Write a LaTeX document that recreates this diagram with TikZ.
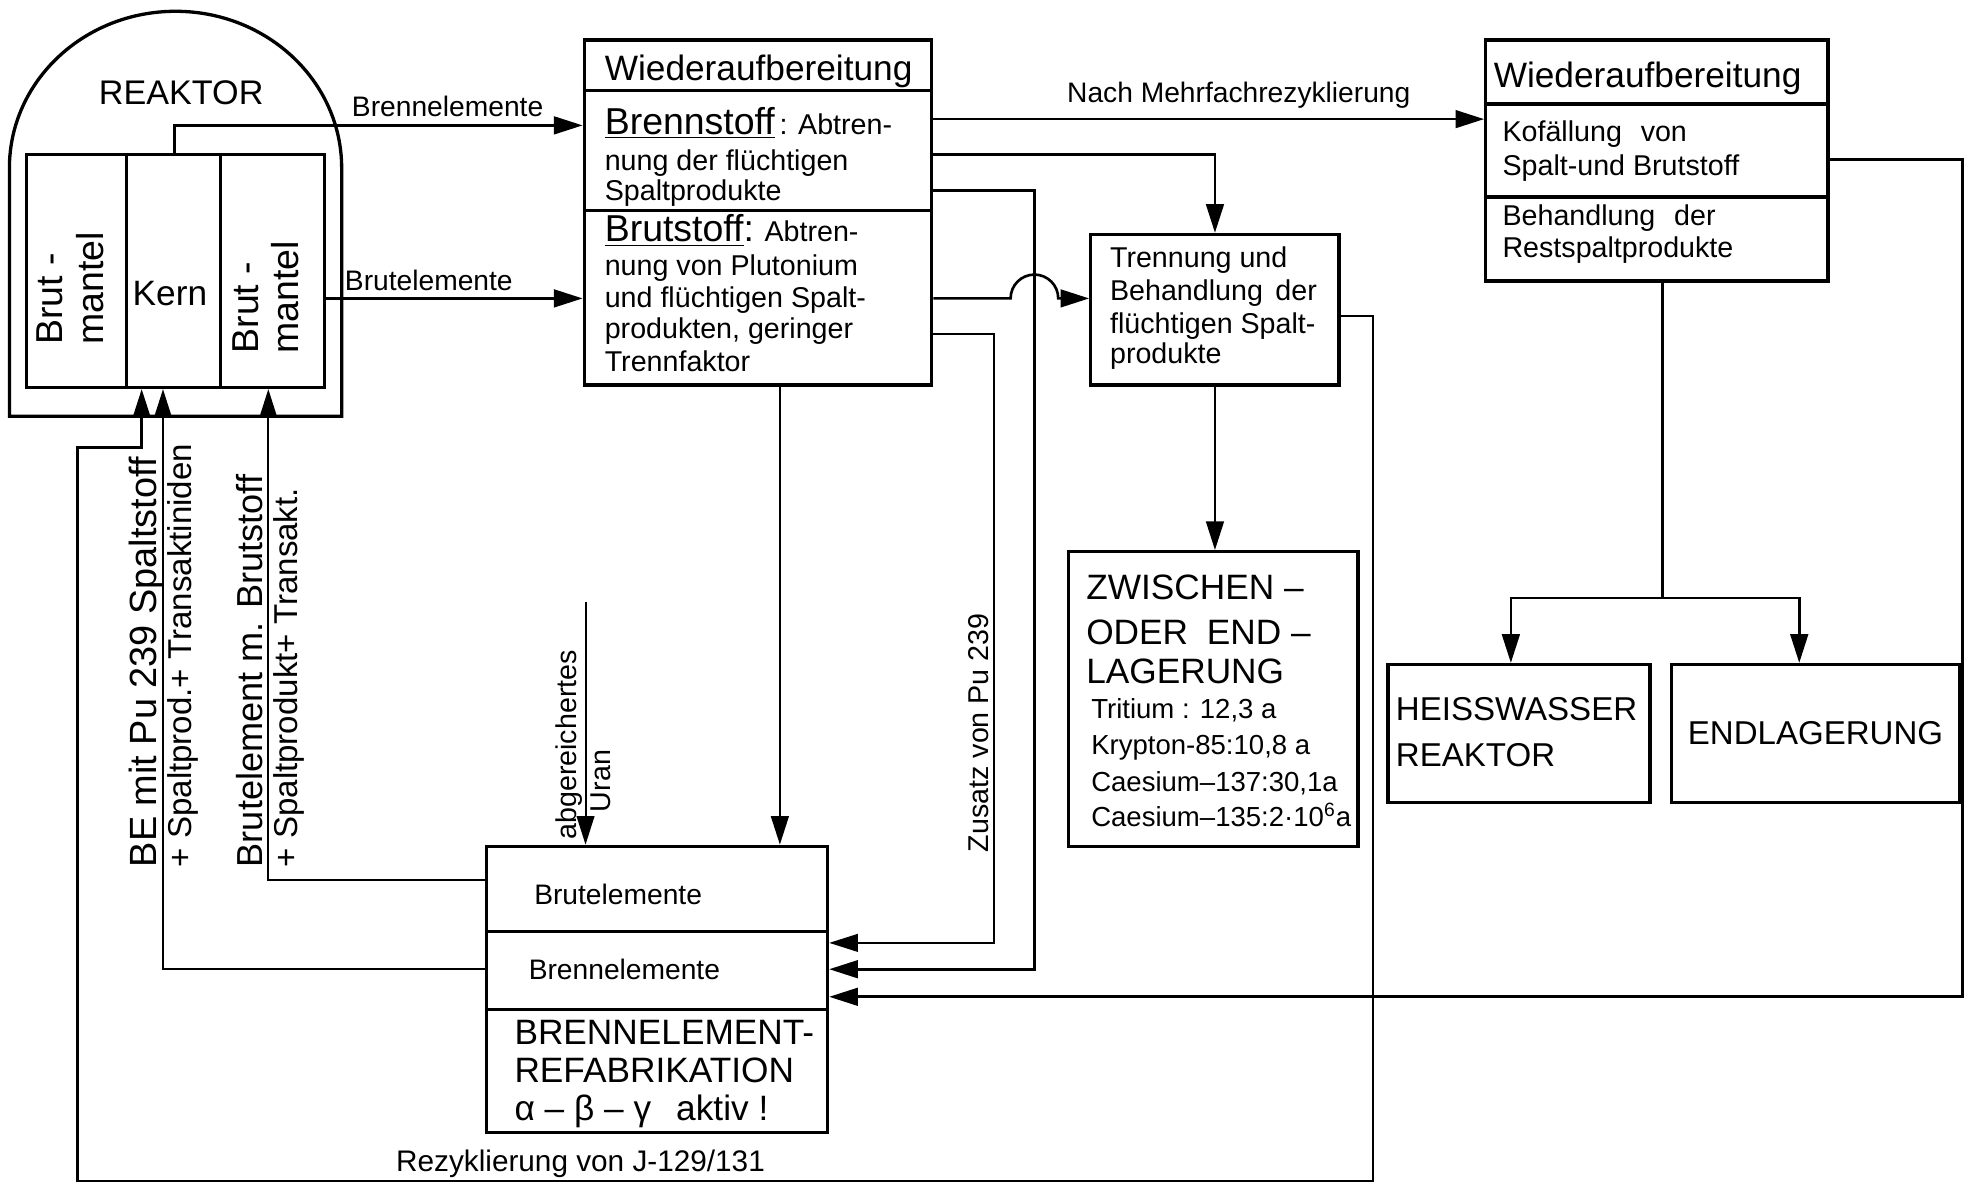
\documentclass[tikz,border=0pt]{standalone}
\usepackage{fontspec}
\setmainfont{Liberation Sans}
\usetikzlibrary{arrows.meta}
\usetikzlibrary{positioning,fit}

\tikzset{
  stage/.style={draw, line width=1.5pt, inner sep=0pt},
  divline/.style={line width=1.5pt},
  flowline/.style={line width=1.2pt},
  feedline/.style={line width=0.9pt},
  arr/.style={-{Triangle[length=13pt,width=8pt]}},
  lbl/.style={inner sep=0pt, font=\fontsize{12.8}{15}\selectfont},
  body/.style={anchor=base west, inner sep=0pt, font=\fontsize{13}{15}\selectfont},
  small/.style={anchor=base west, inner sep=0pt, font=\fontsize{12.5}{15}\selectfont},
  title/.style={anchor=base west, inner sep=0pt, font=\fontsize{16}{19}\selectfont},
  bigtxt/.style={anchor=base west, inner sep=0pt, font=\fontsize{15}{18}\selectfont},
}

\begin{document}
\begin{tikzpicture}[x=0.2mm, y=-0.2mm]
        \useasboundingbox (0,0) rectangle (1568,945);

        % Reaktor
        \draw[divline] (7.5,332) -- (7.5,134) arc[start angle=180, end angle=360, x radius=132.5, y radius=125] -- (272.5,332) -- cycle;
        \node[stage, fit={(21,123) (259,309)}] (core) {};
        \draw[divline] (core.north -| 101,0) -- (core.south -| 101,0);
        \draw[divline] (core.north -| 176,0) -- (core.south -| 176,0);
        \node[inner sep=0pt, font=\fontsize{15.5}{19}\selectfont] (reaktor) at (144.5,74) {REAKTOR};
        \node[rotate=90, align=left, inner sep=0pt, font=\fontsize{17}{18.5}\selectfont] (mantelL) at (56,230) {Brut -\\mantel};
        \node[inner sep=0pt, font=\fontsize{16}{19}\selectfont] (kern) at (135.5,234) {Kern};
        \node[rotate=90, align=left, inner sep=0pt, font=\fontsize{17}{18.5}\selectfont] (mantelR) at (212,237) {Brut -\\mantel};

        % Wiederaufbereitung
        \node[stage, fit={(466,32) (743,307)}] (wa1) {};
        \draw[divline] (wa1.west |- 0,72) -- (wa1.east |- 0,72);
        \draw[divline] (wa1.west |- 0,168) -- (wa1.east |- 0,168);
        \node[title] (wa1t) at (482,64) {Wiederaufbereitung};
        \node[body] (wa1a) at (482,107) {{\fontsize{17}{19}\selectfont\underline{Brennstoff}}\,: Abtren-};
        \node[body] (wa1b) at (482,136) {nung der flüchtigen};
        \node[body] (wa1c) at (482,160) {Spaltprodukte};
        \node[body] (wa1d) at (482,193) {{\fontsize{17}{19}\selectfont\underline{Brutstoff}:} Abtren-};
        \node[body] (wa1e) at (482,220) {nung von Plutonium};
        \node[body] (wa1f) at (482,245) {und flüchtigen Spalt-};
        \node[body] (wa1g) at (482,270) {produkten, geringer};
        \node[body] (wa1h) at (482,296) {Trennfaktor};

        % Trennung
        \node[stage, fit={(870,187) (1068,307)}] (tr) {};
        \node[body] (tra) at (885,213) {Trennung und};
        \node[body] (trb) at (885,240) {Behandlung\hspace{2mm}der};
        \node[body] (trc) at (885,266) {flüchtigen Spalt-};
        \node[body] (trd) at (885,290) {produkte};

        % Zwischenlager
        \node[stage, fit={(852,440) (1083,675)}] (zw) {};
        \node[title] (zwa) at (866,478) {ZWISCHEN –};
        \node[title] (zwb) at (866,514) {ODER\hspace{3mm}END –};
        \node[title] (zwc) at (866,545) {LAGERUNG};
        \node[small] (zwd) at (870,573) {Tritium : 12,3 a};
        \node[small] (zwe) at (870,602) {Krypton-85:10,8 a};
        \node[small] (zwf) at (870,631) {Caesium–137:30,1a};
        \node[small] (zwg) at (870,659) {Caesium–135:2·10\textsuperscript{6}a};

        % zweite Wiederaufbereitung
        \node[stage, fit={(1185,32) (1458,224)}] (wa2) {};
        \draw[divline] (wa2.west |- 0,83) -- (wa2.east |- 0,83);
        \draw[divline] (wa2.west |- 0,157) -- (wa2.east |- 0,157);
        \node[title] (wa2t) at (1191,70) {Wiederaufbereitung};
        \node[body] (wa2a) at (1198,113) {Kofällung\hspace{3mm}von};
        \node[body] (wa2b) at (1198,140) {Spalt-und Brutstoff};
        \node[body] (wa2c) at (1198,180) {Behandlung\hspace{3mm}der};
        \node[body] (wa2d) at (1198,205) {Restspaltprodukte};

        \node[stage, fit={(1107,530) (1316,640)}] (hw) {};
        \node[bigtxt] (hwa) at (1113,575) {HEISSWASSER};
        \node[bigtxt] (hwb) at (1113,611) {REAKTOR};
        \node[stage, fit={(1333,530) (1563,640)}] (el) {};
        \node[inner sep=0pt, font=\fontsize{15}{18}\selectfont] (ela) at (el.center) {ENDLAGERUNG};

        % Refabrikation
        \node[stage, fit={(388,675) (660,903)}] (refab) {};
        \draw[divline] (refab.west |- 0,743) -- (refab.east |- 0,743);
        \draw[divline] (refab.west |- 0,805) -- (refab.east |- 0,805);
        \node[lbl] (rfa) at (493,713) {Brutelemente};
        \node[lbl] (rfb) at (498,773) {Brennelemente};
        \node[title] (rfc) at (410,833) {BRENNELEMENT-};
        \node[title] (rfd) at (410,863) {REFABRIKATION};
        \node[title] (rfe) at (410,894) {α – β – γ\hspace{4mm}aktiv !};

        % Verbindungen
        \draw[flowline, arr] (core.north -| 139,0) |- (wa1.west |- 0,100);
        \node[lbl] (lbrenn) at (357,85) {Brennelemente};
        \draw[flowline, arr] (core.east |- 0,238) -- (wa1.west |- 0,238);
        \node[lbl] (lbrut) at (342,224) {Brutelemente};

        \draw[flowline, arr] (wa1.east |- 0,95) -- (wa2.west |- 0,95);
        \node[lbl] (lmehr) at (988,76) {Nach Mehrfachrezyklierung};
        \draw[flowline, arr] (wa1.east |- 0,123) -| (tr.north);
        \draw[flowline, arr] (wa1.east |- 0,152) -- (825,152) |- (refab.east |- 0,773);
        \draw[flowline, arr] (wa1.east |- 0,238) -- (806,238) arc[start angle=180, end angle=360, radius=19] -- (tr.west |- 0,238);
        \draw[feedline, arr] (wa1.east |- 0,266) -- (793,266) |- (refab.east |- 0,752);
        \node[rotate=90, anchor=south west, inner sep=0pt, font=\fontsize{13}{15}\selectfont] (lpu) at (789,680) {Zusatz von Pu 239};
        \draw[flowline, arr] (wa1.south -| 622,0) -- (refab.north -| 622,0);

        \coordinate (uran) at (467,480);
        \draw[feedline, arr] (uran) -- (refab.north -| uran);
        \node[rotate=90, anchor=south west, inner sep=0pt, font=\fontsize{13}{15}\selectfont] (luran1) at (465,670) {abgereichertes};
        \node[rotate=90, anchor=north west, inner sep=0pt, font=\fontsize{13}{15}\selectfont] (luran2) at (471,648) {Uran};

        \draw[flowline, arr] (tr.south) -- (zw.north -| tr.south);

        \draw[flowline, arr] (wa2.east |- 0,127) -- (1565,127) |- (refab.east |- 0,795);
        \coordinate (split) at (1326,477);
        \draw[flowline] (wa2.south -| split) -- (split);
        \draw[flowline, arr] (split) -| (hw.north -| 1205,0);
        \draw[flowline, arr] (split) -| (el.north -| 1435,0);

        % Rueckfuehrung zum Reaktor
        \draw[flowline, arr] (tr.east |- 0,252) -- (1095,252) -- (1095,942) -- (62,942) -- (62,357) -- (113,357) -- (core.south -| 113,0);
        \node[inner sep=0pt, font=\fontsize{13.5}{15}\selectfont] (lrez) at (463,928) {Rezyklierung von J-129/131};
        \draw[feedline, arr] (refab.west |- 0,773) -| (core.south -| 130,0);
        \draw[feedline, arr] (refab.west |- 0,702) -| (core.south -| 214,0);
        \node[rotate=90, anchor=base west, inner sep=0pt, font=\fontsize{17.2}{19}\selectfont] (lbe1) at (125,692) {BE mit Pu 239 Spaltstoff};
        \node[rotate=90, anchor=north west, inner sep=0pt, font=\fontsize{15}{18}\selectfont] (lbe2) at (133,692) {+ Spaltprod.+ Transaktiniden};
        \node[rotate=90, anchor=base west, inner sep=0pt, font=\fontsize{16.4}{19}\selectfont] (lbt1) at (209,692) {Brutelement m. Brutstoff};
        \node[rotate=90, anchor=north west, inner sep=0pt, font=\fontsize{15}{18}\selectfont] (lbt2) at (218,692) {+ Spaltprodukt+ Transakt.};
\end{tikzpicture}
\end{document}
